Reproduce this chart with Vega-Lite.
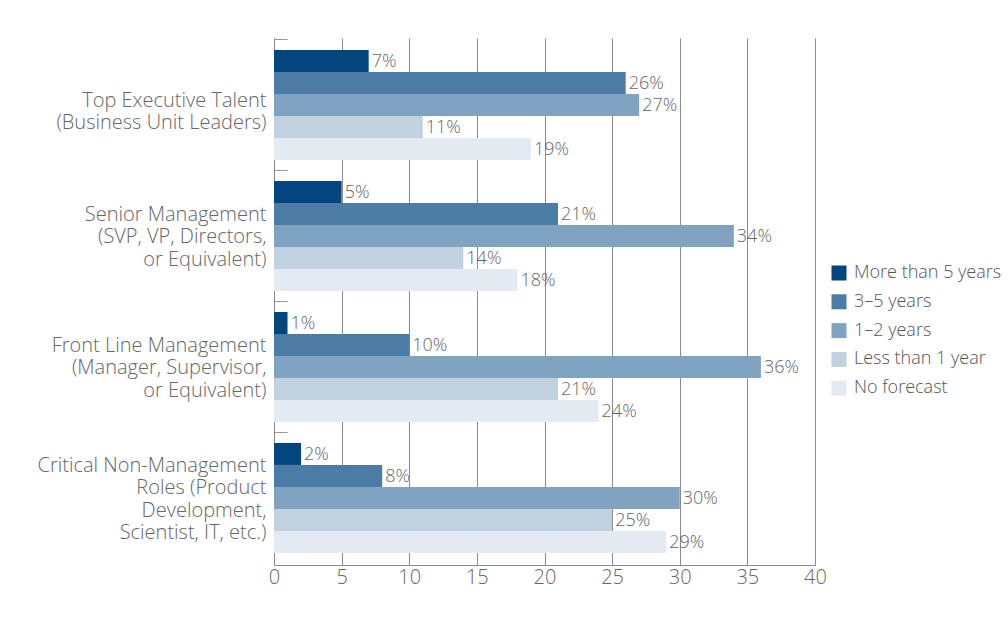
{
  "$schema": "https://vega.github.io/schema/vega-lite/v6.json",
  "width": 541,
  "height": 527,
  "autosize": {"type": "none"},
  "padding": {"left": 274, "top": 38, "right": 193, "bottom": 54},
  "background": "white",
  "config": {
    "font": "Open Sans",
    "view": {"stroke": null},
    "axis": {"labelFontWeight": 300},
    "legend": {"labelFontWeight": 300},
    "text": {"fontWeight": 300}
  },
  "data": {
    "values": [
      {"role": "Top Executive Talent\u2002|(Business Unit Leaders)", "period": "More than 5 years", "value": 7},
      {"role": "Top Executive Talent\u2002|(Business Unit Leaders)", "period": "3–5 years", "value": 26},
      {"role": "Top Executive Talent\u2002|(Business Unit Leaders)", "period": "1–2 years", "value": 27},
      {"role": "Top Executive Talent\u2002|(Business Unit Leaders)", "period": "Less than 1 year", "value": 11},
      {"role": "Top Executive Talent\u2002|(Business Unit Leaders)", "period": "No forecast", "value": 19},
      {"role": "Senior Management\u2002|(SVP, VP, Directors,|or Equivalent)", "period": "More than 5 years", "value": 5},
      {"role": "Senior Management\u2002|(SVP, VP, Directors,|or Equivalent)", "period": "3–5 years", "value": 21},
      {"role": "Senior Management\u2002|(SVP, VP, Directors,|or Equivalent)", "period": "1–2 years", "value": 34},
      {"role": "Senior Management\u2002|(SVP, VP, Directors,|or Equivalent)", "period": "Less than 1 year", "value": 14},
      {"role": "Senior Management\u2002|(SVP, VP, Directors,|or Equivalent)", "period": "No forecast", "value": 18},
      {"role": "Front Line Management\u2002|(Manager, Supervisor,|or Equivalent)", "period": "More than 5 years", "value": 1},
      {"role": "Front Line Management\u2002|(Manager, Supervisor,|or Equivalent)", "period": "3–5 years", "value": 10},
      {"role": "Front Line Management\u2002|(Manager, Supervisor,|or Equivalent)", "period": "1–2 years", "value": 36},
      {"role": "Front Line Management\u2002|(Manager, Supervisor,|or Equivalent)", "period": "Less than 1 year", "value": 21},
      {"role": "Front Line Management\u2002|(Manager, Supervisor,|or Equivalent)", "period": "No forecast", "value": 24},
      {"role": "Critical Non-Management|Roles (Product\u2002|Development,|Scientist, IT, etc.)", "period": "More than 5 years", "value": 2},
      {"role": "Critical Non-Management|Roles (Product\u2002|Development,|Scientist, IT, etc.)", "period": "3–5 years", "value": 8},
      {"role": "Critical Non-Management|Roles (Product\u2002|Development,|Scientist, IT, etc.)", "period": "1–2 years", "value": 30},
      {"role": "Critical Non-Management|Roles (Product\u2002|Development,|Scientist, IT, etc.)", "period": "Less than 1 year", "value": 25},
      {"role": "Critical Non-Management|Roles (Product\u2002|Development,|Scientist, IT, etc.)", "period": "No forecast", "value": 29}
    ]
  },
  "transform": [{"calculate": "datum.value + '%'", "as": "label"}],
  "encoding": {
    "y": {
      "field": "role",
      "type": "nominal",
      "sort": null,
      "scale": {"paddingInner": 0.16, "paddingOuter": 0.092},
      "axis": {
        "title": null,
        "labelExpr": "split(datum.label, '|')",
        "labelFontSize": 20,
        "labelLineHeight": 22.3,
        "labelColor": "#666666",
        "labelPadding": 21,
        "labelLimit": 400,
        "domainColor": "#888888",
        "tickColor": "#999999",
        "tickSize": -13,
        "bandPosition": -0.095,
        "grid": false,
        "labelOffset": {
          "condition": [
            {"test": "indexof(datum.value, 'Top') == 0", "value": -4},
            {"test": "indexof(datum.value, 'Critical') == 0", "value": -32}
          ],
          "value": -21
        }
      }
    },
    "yOffset": {
      "field": "period",
      "type": "nominal",
      "sort": ["More than 5 years", "3–5 years", "1–2 years", "Less than 1 year", "No forecast"],
      "scale": {"paddingInner": 0, "paddingOuter": 0}
    },
    "x": {
      "field": "value",
      "type": "quantitative",
      "scale": {"domain": [0, 40], "nice": false},
      "axis": {
        "title": null,
        "values": [0, 5, 10, 15, 20, 25, 30, 35, 40],
        "grid": true,
        "gridColor": "#8a8a8a",
        "domainColor": "#888888",
        "ticks": false,
        "labelFontSize": 20,
        "labelColor": "#666666",
        "labelPadding": 2,
        "labelFlush": false
      }
    }
  },
  "layer": [
    {
      "mark": {"type": "bar"},
      "encoding": {
        "color": {
          "field": "period",
          "type": "nominal",
          "sort": ["More than 5 years", "3–5 years", "1–2 years", "Less than 1 year", "No forecast"],
          "scale": {
            "domain": ["More than 5 years", "3–5 years", "1–2 years", "Less than 1 year", "No forecast"],
            "range": ["#02457f", "#4b7ca5", "#7fa3c0", "#c0d1df", "#e4eaf1"]
          },
          "legend": {
            "title": null,
            "orient": "none",
            "legendX": 556,
            "legendY": 226,
            "symbolType": "square",
            "symbolSize": 225,
            "symbolStrokeWidth": 0,
            "labelFontSize": 18,
            "labelColor": "#555555",
            "labelOffset": 6,
            "rowPadding": 10.8,
            "padding": 0
          }
        }
      }
    },
    {
      "mark": {"type": "text", "align": "left", "baseline": "middle", "dx": 3, "dy": 1, "fontSize": 18, "color": "#666666"},
      "encoding": {"text": {"field": "label"}}
    }
  ]
}
